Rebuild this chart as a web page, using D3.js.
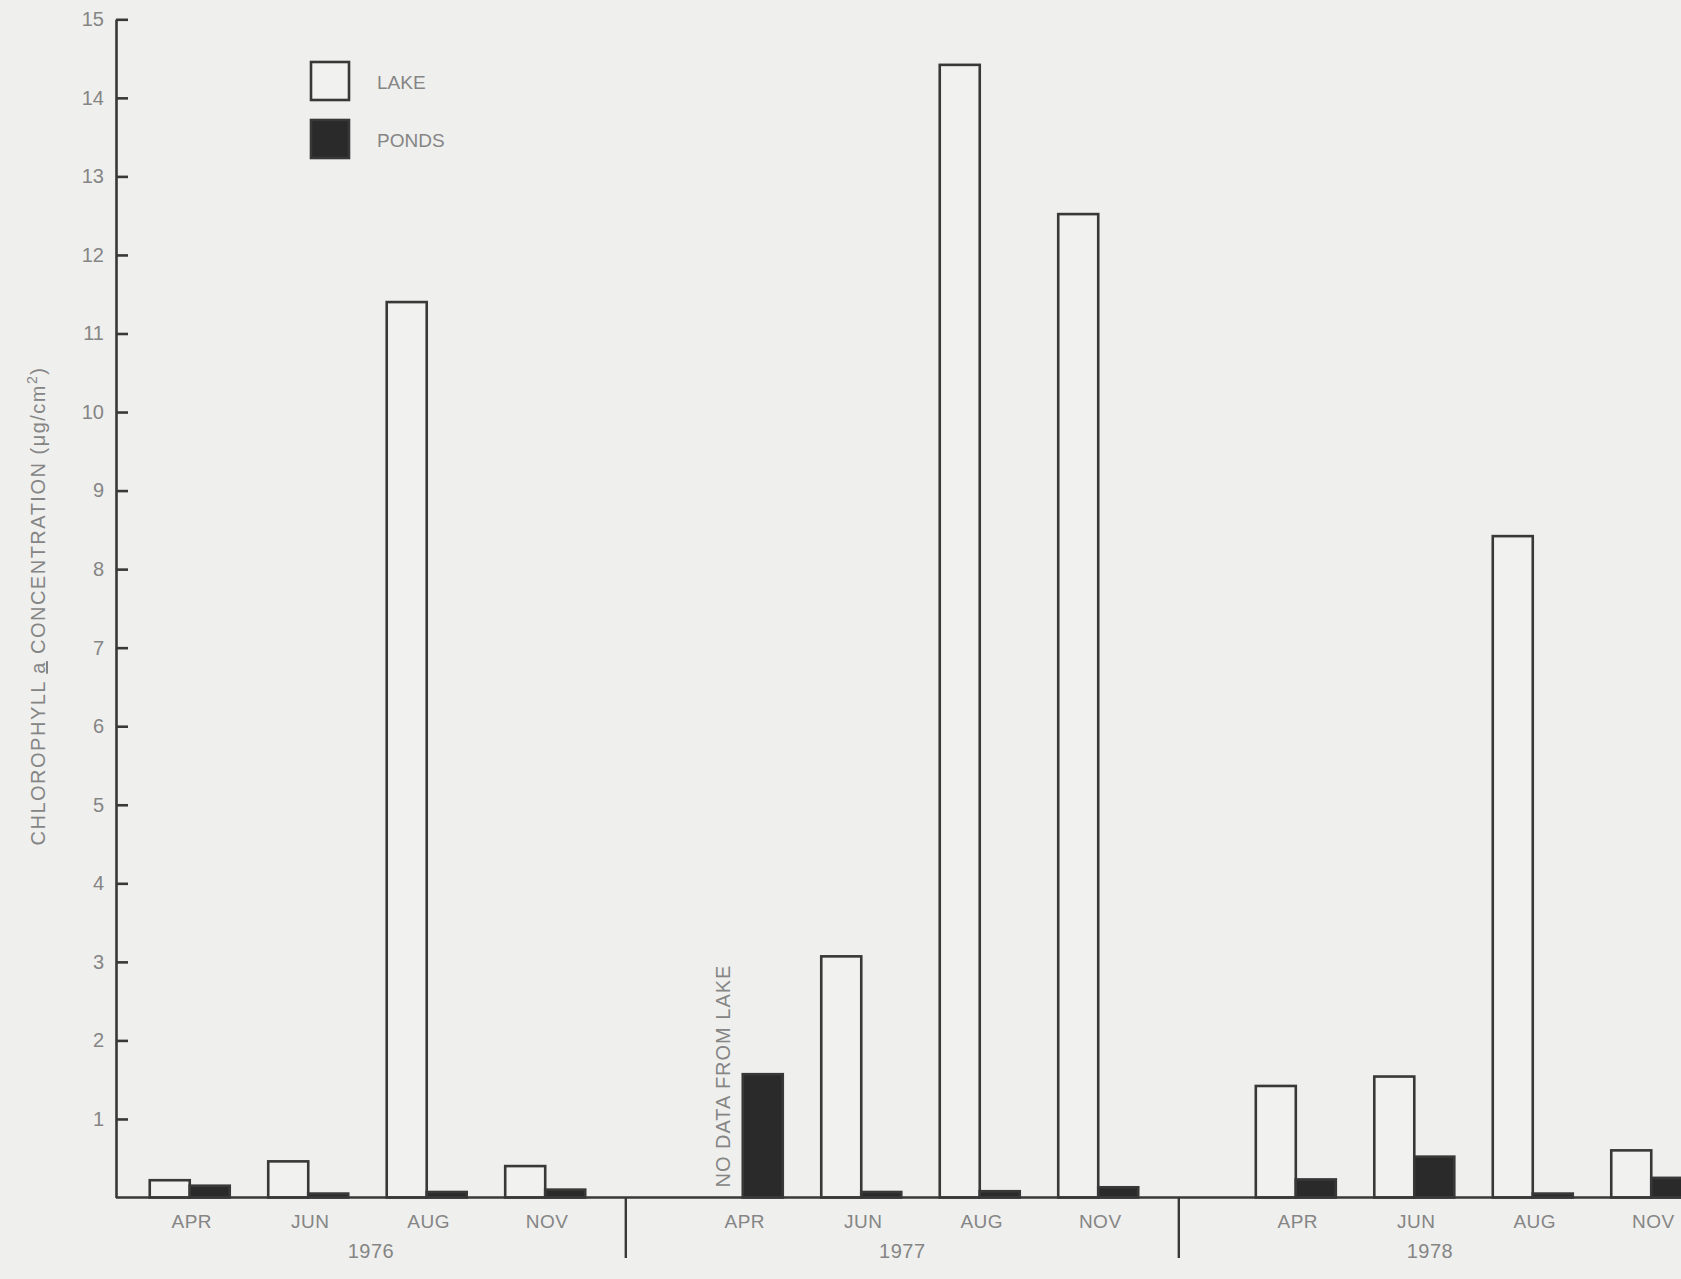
<!DOCTYPE html>
<html>
<head>
<meta charset="utf-8">
<script src="https://cdn.jsdelivr.net/npm/d3@7"></script>
<style>
  html, body { margin: 0; padding: 0; background: #efefed; }
  svg { display: block; }
  text { font-family: "Liberation Sans", "DejaVu Sans", Arial, sans-serif; fill: #858585; }
</style>
</head>
<body>
<svg id="chart" width="1681" height="1279"></svg>
<script>
// Chlorophyll a concentration, lake vs. ponds, by sampling month
const years = ["1976", "1977", "1978"];
const months = ["APR", "JUN", "AUG", "NOV"];
// null = no lake sample that month
const lakeValues = [
  [0.22, 0.46, 11.40, 0.40],
  [null, 3.07, 14.42, 12.52],
  [1.42, 1.54, 8.42, 0.60]
];
const pondValues = [
  [0.15, 0.05, 0.07, 0.10],
  [1.57, 0.07, 0.08, 0.13],
  [0.23, 0.52, 0.05, 0.25]
];
const yTickValues = [1, 2, 3, 4, 5, 6, 7, 8, 9, 10, 11, 12, 13, 14, 15];
const seriesNames = ["LAKE", "PONDS"];
const noDataNote = "NO DATA FROM LAKE";

const W = 1681, H = 1279;
const svg = d3.select("#chart");
const ink = "#383838";

const axisX = 116;
const y = d3.scaleLinear().domain([0, 15]).range([1197.5, 19.3]);

// groups (years) with a gap between them, months inside each group
const groupGap = 0.143;
const xGroup = d3.scaleBand().domain(years)
  .range([130.5, 130.5 + 553 * 3 - 79])
  .paddingInner(groupGap).paddingOuter(0);
const xMonth = d3.scaleBand().domain(months).range([0, xGroup.bandwidth()]).padding(0);
const barW = 40;
const center = (yi, mi) => xGroup(years[yi]) + xMonth(months[mi]) + xMonth.bandwidth() / 2;

// rows of bar records
const bars = [];
years.forEach((yr, yi) => months.forEach((m, mi) => {
  const c = center(yi, mi);
  if (lakeValues[yi][mi] != null) bars.push({ series: 0, x: c - barW, v: lakeValues[yi][mi] });
  bars.push({ series: 1, x: c, v: pondValues[yi][mi] });
}));

const g = svg.append("g");

// bars
g.selectAll("rect.bar").data(bars).join("rect")
  .attr("class", "bar")
  .attr("x", d => d.x)
  .attr("width", barW)
  .attr("y", d => y(d.v))
  .attr("height", d => y(0) - y(d.v))
  .attr("fill", d => d.series === 0 ? "#f1f1ef" : "#2a2a2a")
  .attr("stroke", ink)
  .attr("stroke-width", 2.6);

// y axis, ticks pointing inward
const yAxis = d3.axisLeft(y).tickValues(yTickValues).tickSizeInner(-12).tickSizeOuter(0).tickPadding(12)
  .tickFormat(d3.format("d"));
const ya = g.append("g").attr("transform", `translate(${axisX},0)`).call(yAxis);
ya.selectAll("path, line").attr("stroke", ink).attr("stroke-width", 2.6);
ya.selectAll("text").attr("font-size", 20).attr("fill", "#858585")
  .style("font-family", '"Liberation Sans", "DejaVu Sans", Arial, sans-serif');

// baseline
g.append("line").attr("x1", axisX).attr("x2", W).attr("y1", y(0)).attr("y2", y(0))
  .attr("stroke", ink).attr("stroke-width", 2.6);

// separators between years
const sepX = years.slice(1).map(yr => xGroup(yr) - xGroup.step() * groupGap * 0.73);
sepX.forEach(sx => {
  g.append("line").attr("x1", sx).attr("x2", sx).attr("y1", y(0)).attr("y2", 1258)
    .attr("stroke", ink).attr("stroke-width", 2.4);
});
const segEdges = [axisX, ...sepX, W];

// month labels and year labels
years.forEach((yr, yi) => {
  months.forEach((m, mi) => {
    g.append("text").attr("x", center(yi, mi) + 2).attr("y", 1228)
      .attr("text-anchor", "middle").attr("font-size", 19).attr("letter-spacing", 0.5).text(m);
  });
  g.append("text").attr("x", (segEdges[yi] + segEdges[yi + 1]) / 2).attr("y", 1258)
    .attr("text-anchor", "middle").attr("font-size", 20).attr("letter-spacing", 0.5).text(yr);
});

// note for missing lake sample
{
  const nx = center(1, 0) - barW / 2 - 1;
  g.append("text")
    .attr("transform", `translate(${nx + 8},${y(0) - 10}) rotate(-90)`)
    .attr("font-size", 20).attr("letter-spacing", 1).attr("text-anchor", "start").text(noDataNote);
}

// legend
const legend = g.append("g").attr("transform", "translate(311,62)");
seriesNames.forEach((name, i) => {
  legend.append("rect").attr("x", 0).attr("y", i * 58).attr("width", 38).attr("height", 38)
    .attr("fill", i === 0 ? "#f1f1ef" : "#2a2a2a").attr("stroke", ink).attr("stroke-width", 2.6);
  legend.append("text").attr("x", 66).attr("y", i * 58 + 27).attr("font-size", 19).text(name);
});

// y axis title
const title = g.append("text")
  .attr("transform", `translate(45,606) rotate(-90)`)
  .attr("text-anchor", "middle").attr("font-size", 20).attr("letter-spacing", 1.5);
title.append("tspan").text("CHLOROPHYLL ");
title.append("tspan").attr("text-decoration", "underline").text("a");
title.append("tspan").text("  CONCENTRATION (\u03bcg/cm");
title.append("tspan").attr("baseline-shift", "super").attr("font-size", 14).text("2");
title.append("tspan").text(")");
</script>
</body>
</html>
